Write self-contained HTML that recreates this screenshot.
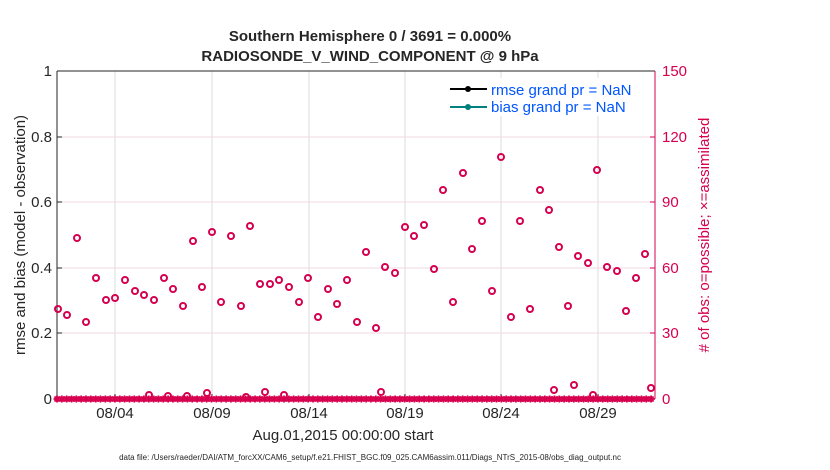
<!DOCTYPE html>
<html><head><meta charset="utf-8"><style>
body{margin:0;background:#fff;}
svg{display:block;font-family:"Liberation Sans",sans-serif;}
</style></head><body>
<svg width="830" height="470" viewBox="0 0 830 470" xmlns="http://www.w3.org/2000/svg">
<rect width="830" height="470" fill="#fff"/>
<g stroke="#dcdcdc" stroke-width="1">
<line x1="115" y1="71" x2="115" y2="399"/><line x1="212" y1="71" x2="212" y2="399"/>
<line x1="309" y1="71" x2="309" y2="399"/><line x1="405" y1="71" x2="405" y2="399"/>
<line x1="501" y1="71" x2="501" y2="399"/><line x1="598" y1="71" x2="598" y2="399"/>
</g>
<g stroke="#f0d8e0" stroke-width="1">
<line x1="57" y1="137" x2="655" y2="137"/><line x1="57" y1="202" x2="655" y2="202"/>
<line x1="57" y1="268" x2="655" y2="268"/><line x1="57" y1="333" x2="655" y2="333"/>
</g>
<line x1="57" y1="71" x2="57" y2="399" stroke="#262626"/>
<line x1="57" y1="71" x2="655" y2="71" stroke="#262626"/>
<line x1="57" y1="399" x2="655" y2="399" stroke="#262626"/>
<line x1="655" y1="71" x2="655" y2="399" stroke="#d6004f"/>
<g stroke="#262626"><line x1="57" y1="137" x2="62" y2="137"/><line x1="57" y1="202" x2="62" y2="202"/><line x1="57" y1="268" x2="62" y2="268"/><line x1="57" y1="333" x2="62" y2="333"/>
<line x1="115" y1="399" x2="115" y2="394"/><line x1="212" y1="399" x2="212" y2="394"/><line x1="309" y1="399" x2="309" y2="394"/><line x1="405" y1="399" x2="405" y2="394"/><line x1="501" y1="399" x2="501" y2="394"/><line x1="598" y1="399" x2="598" y2="394"/></g>
<g stroke="#d6004f"><line x1="650" y1="137" x2="655" y2="137"/><line x1="650" y1="202" x2="655" y2="202"/><line x1="650" y1="268" x2="655" y2="268"/><line x1="650" y1="333" x2="655" y2="333"/></g>
<g font-size="15" fill="#262626" text-anchor="end">
<text x="52" y="76">1</text><text x="52" y="142">0.8</text><text x="52" y="207">0.6</text><text x="52" y="273">0.4</text><text x="52" y="338">0.2</text><text x="52" y="404">0</text></g>
<g font-size="15" fill="#d6004f">
<text x="662" y="76">150</text><text x="662" y="142">120</text><text x="662" y="207">90</text><text x="662" y="273">60</text><text x="662" y="338">30</text><text x="662" y="404">0</text></g>
<g font-size="15" fill="#262626" text-anchor="middle">
<text x="115" y="418">08/04</text><text x="212" y="418">08/09</text><text x="309" y="418">08/14</text><text x="405" y="418">08/19</text><text x="501" y="418">08/24</text><text x="598" y="418">08/29</text>
<text x="343" y="440">Aug.01,2015 00:00:00 start</text>
<text x="370" y="41" font-weight="bold">Southern Hemisphere 0 / 3691 = 0.000%</text>
<text x="370" y="61" font-weight="bold">RADIOSONDE_V_WIND_COMPONENT @ 9 hPa</text>
</g>
<text x="370" y="460" font-size="8" fill="#262626" text-anchor="middle">data file: /Users/raeder/DAI/ATM_forcXX/CAM6_setup/f.e21.FHIST_BGC.f09_025.CAM6assim.011/Diags_NTrS_2015-08/obs_diag_output.nc</text>
<text transform="translate(25,235) rotate(-90)" font-size="15" fill="#262626" text-anchor="middle">rmse and bias (model - observation)</text>
<text transform="translate(709,235) rotate(-90)" font-size="15" fill="#d6004f" text-anchor="middle"># of obs: o=possible; ×=assimilated</text>
<g fill="none" stroke="#d6004f" stroke-width="2" id="pts"></g>
<g stroke="#d6004f" stroke-width="1.8" id="ast"></g>
<rect x="445" y="78" width="205" height="38" fill="#fff"/>
<line x1="450" y1="89" x2="487" y2="89" stroke="#000" stroke-width="2"/><circle cx="468" cy="89" r="3" fill="#000"/>
<line x1="450" y1="107" x2="487" y2="107" stroke="#008080" stroke-width="2"/><circle cx="468" cy="107" r="3" fill="#008080"/>
<text x="491" y="95" font-size="15" fill="#0055ff">rmse grand pr = NaN</text>
<text x="491" y="112" font-size="15" fill="#0055ff">bias grand pr = NaN</text>
</svg>
<script>
var P=[[58,309],[67,315],[77,238],[86,322],[96,278],[106,300],[115,298],[125,280],[135,291],[144,295],[154,300],[164,278],[173,289],[183,306],[193,241],[202,287],[212,232],[221,302],[231,236],[241,306],[250,226],[260,284],[270,284],[279,280],[289,287],[299,302],[308,278],[318,317],[328,289],[337,304],[347,280],[357,322],[366,252],[376,328],[385,267],[395,273],[405,227],[414,236],[424,225],[434,269],[443,190],[453,302],[463,173],[472,249],[482,221],[492,291],[501,157],[511,317],[520,221],[530,309],[540,190],[549,210],[559,247],[568,306],[578,256],[588,263],[597,170],[607,267],[617,271],[626,311],[636,278],[645,254],
[149,395],[168,396],[187,396],[207,393],[246,397],[265,392],[284,395],[381,392],[554,390],[574,385],[593,395],[651,388]];
var ns="http://www.w3.org/2000/svg",g=document.getElementById("pts");
P.forEach(function(p){var c=document.createElementNS(ns,"circle");c.setAttribute("cx",p[0]);c.setAttribute("cy",p[1]);c.setAttribute("r",3);g.appendChild(c);});
var a=document.getElementById("ast"),d="";
for(var x=57;x<=655;x+=4.83){d+="M"+(x-3.5)+" 399h7M"+x+" 395.5v7M"+(x-2.5)+" 396.5l5 5M"+(x-2.5)+" 401.5l5 -5";}
var pa=document.createElementNS(ns,"path");pa.setAttribute("d",d);a.appendChild(pa);
</script>
</body></html>
